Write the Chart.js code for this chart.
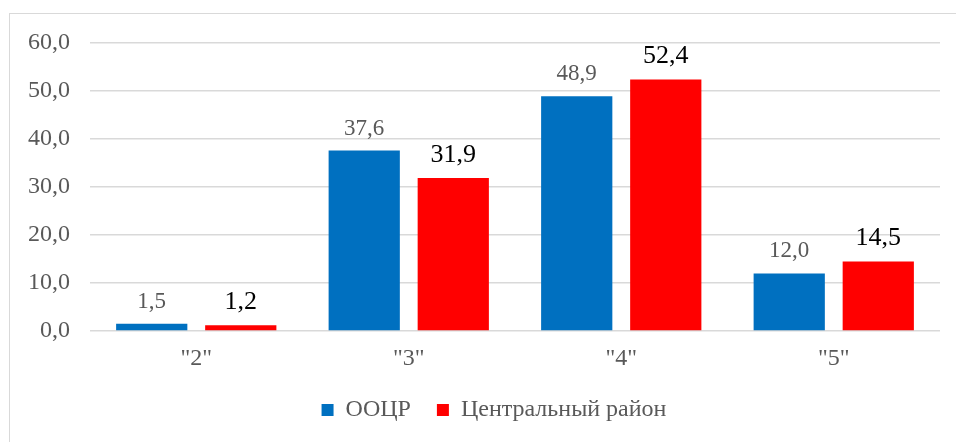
<!DOCTYPE html>
<html>
<head>
<meta charset="utf-8">
<script src="https://cdn.jsdelivr.net/npm/chart.js@4"></script>
<style>
  html, body { margin: 0; padding: 0; background: #fff; }
  #wrap { position: relative; width: 956px; height: 442px; overflow: hidden; }
  #frame { position: absolute; left: 9px; top: 13px; width: 1000px; height: 1000px;
           border-left: 1.5px solid #d9d9d9; border-top: 1.5px solid #d9d9d9; }
  canvas { position: absolute; left: 0; top: 0; }
</style>
</head>
<body>
<div id="wrap">
  <div id="frame"></div>
  <canvas id="chart" width="956" height="442"></canvas>
</div>
<script>
// Data
const categories = ['"2"', '"3"', '"4"', '"5"'];
const oocrValues = [1.5, 37.6, 48.9, 12.0];
const districtValues = [1.2, 31.9, 52.4, 14.5];
const seriesNames = ['ООЦР', 'Центральный район'];

const fmt = v => v.toFixed(1).replace('.', ',');
const serif = "'Liberation Serif', 'Times New Roman', serif";

// Value labels above the bars
const barLabels = {
    id: 'barLabels',
    afterDatasetsDraw(chart) {
        const ctx = chart.ctx;
        chart.data.datasets.forEach((ds, i) => {
            const meta = chart.getDatasetMeta(i);
            ctx.save();
            ctx.font = (i === 0 ? '23px ' : '26px ') + serif;
            ctx.fillStyle = i === 0 ? '#595959' : '#000000';
            ctx.textAlign = 'center';
            ctx.textBaseline = 'alphabetic';
            meta.data.forEach((bar, j) => {
                ctx.fillText(fmt(ds.data[j]), bar.x, bar.y - 16);
            });
            ctx.restore();
        });
    }
};

// legend sits a bit right of the canvas centre in the original
const legendShift = {
    id: 'legendShift',
    afterLayout(chart) {
        chart.legend.left += 24;
        chart.legend.right += 24;
    }
};

const config = {
    type: 'bar',
    data: {
        labels: categories,
        datasets: [{
            label: seriesNames[0],
            data: oocrValues,
            backgroundColor: '#0070C0',
            categoryPercentage: 0.838,
            barPercentage: 0.8
        }, {
            label: seriesNames[1],
            data: districtValues,
            backgroundColor: '#FF0000',
            categoryPercentage: 0.838,
            barPercentage: 0.8
        }]
    },
    options: {
        responsive: false,
        animation: false,
        layout: {
            padding: { left: 0, right: 16, top: 43, bottom: 10 }
        },
        plugins: {
            tooltip: { enabled: false },
            legend: {
                position: 'bottom',
                labels: {
                    color: '#595959',
                    font: { family: serif, size: 24 },
                    boxWidth: 12,
                    boxHeight: 12,
                    padding: 26
                }
            }
        },
        scales: {
            x: {
                grid: { display: false },
                border: { display: false },
                ticks: {
                    color: '#595959',
                    font: { family: serif, size: 24 },
                    padding: 5
                },
                afterFit(scale) { scale.height = 41; }
            },
            y: {
                min: 0,
                max: 60,
                grid: { color: '#d9d9d9', lineWidth: 1.5, drawTicks: false },
                border: { display: false },
                ticks: {
                    stepSize: 10,
                    color: '#595959',
                    font: { family: serif, size: 24 },
                    padding: 20,
                    callback: v => fmt(v)
                },
                afterFit(scale) { scale.width = 90; }
            }
        }
    },
    plugins: [barLabels, legendShift]
};

Chart.defaults.font.family = serif;

new Chart(document.getElementById('chart'), config);
</script>
</body>
</html>
